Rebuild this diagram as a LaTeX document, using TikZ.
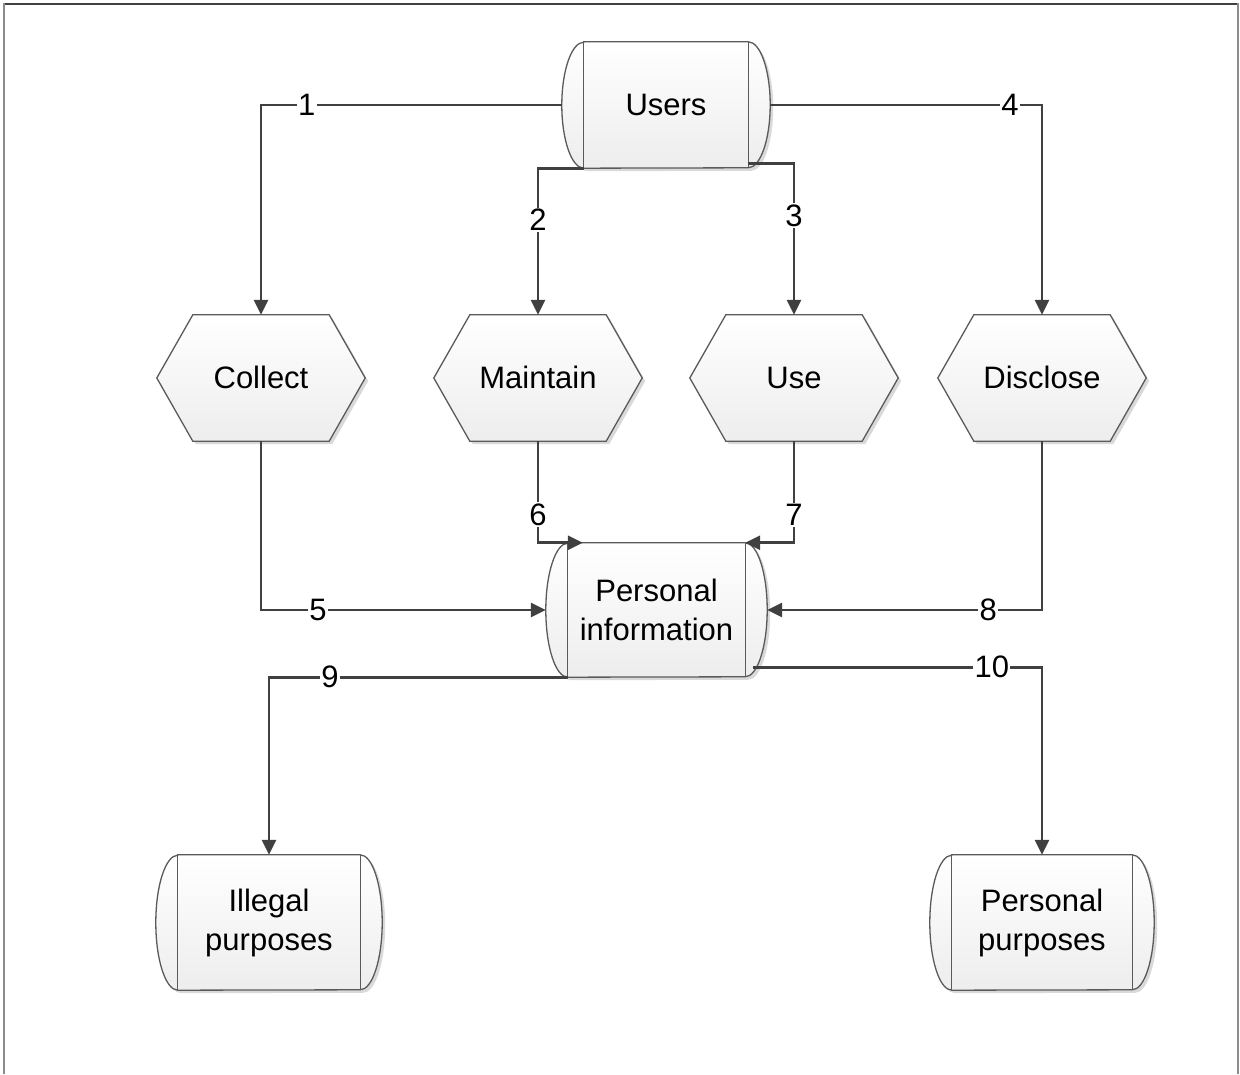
\documentclass[tikz,border=0pt]{standalone}
\usepackage{fontspec}
\setmainfont{Liberation Sans}
\usetikzlibrary{calc,arrows.meta,shadows,backgrounds}
\definecolor{conn}{HTML}{404040}
\definecolor{outl}{HTML}{5A5A5A}
\tikzset{
  shp/.style={draw=outl, line width=1.3pt, top color=white, bottom color=black!7,
    drop shadow={shadow xshift=3pt, shadow yshift=-3pt, opacity=0.15, fill=black}},
  shpline/.style={draw=outl, line width=1.3pt},
  box/.style={draw=none, inner sep=0pt, align=center, font=\fontsize{31}{39}\selectfont},
  hexbox/.style={box, minimum width=208pt, minimum height=126pt, text height=22pt, text depth=0pt},
  conline/.style={draw=conn, line width=2.8pt, -{Triangle[length=15pt,width=14pt]}},
  lbl/.style={fill=white, inner sep=1.5pt, font=\fontsize{31}{36}\selectfont},
}
\newcommand\cylshape[2]{%
  \draw[shp] ($(#1.north west)+(22,0)$) -- ($(#1.north east)+(-22,0)$)
    arc[start angle=90, end angle=-90, x radius=22pt, y radius=#2]
    -- ($(#1.south west)+(22,0)$)
    arc[start angle=270, end angle=90, x radius=22pt, y radius=#2] -- cycle;
  \draw[shpline] ($(#1.north west)+(22,0)$) -- ($(#1.south west)+(22,0)$)
    ($(#1.north east)+(-22,0)$) -- ($(#1.south east)+(-22,0)$);}
\newcommand\hexshape[1]{%
  \draw[shp] (#1.west) -- ($(#1.north west)+(36,0)$) -- ($(#1.north east)+(-36,0)$)
    -- (#1.east) -- ($(#1.south east)+(-36,0)$) -- ($(#1.south west)+(36,0)$) -- cycle;}
\begin{document}
\begin{tikzpicture}[x=1pt,y=1pt]
\useasboundingbox (0,0) rectangle (1240,1074);
% frame
\draw[conn, line width=2pt] (4,1070) -- (1238,1070);
\draw[black!45, line width=2pt] (4,1071) -- (4,0);
\draw[black!45, line width=2pt] (1238,1071) -- (1238,0);

% nodes
\node[box, minimum width=208pt, minimum height=126pt] (users) at (666,969) {Users};
\node[box, minimum width=221pt, minimum height=134pt] (pinfo) at (656.5,464) {Personal\\information};
\node[box, minimum width=226pt, minimum height=135pt] (illegal) at (269,151.5) {Illegal\\purposes};
\node[box, minimum width=224pt, minimum height=135pt] (ppurp) at (1042,151.5) {Personal\\purposes};
\node[hexbox] (collect) at (261,696) {Collect};
\node[hexbox] (maintain) at (538,696) {Maintain};
\node[hexbox] (use) at (794,696) {Use};
\node[hexbox] (disclose) at (1042,696) {Disclose};

\begin{pgfonlayer}{background}
\cylshape{users}{63pt}
\cylshape{pinfo}{67pt}
\cylshape{illegal}{67.5pt}
\cylshape{ppurp}{67.5pt}
\hexshape{collect}
\hexshape{maintain}
\hexshape{use}
\hexshape{disclose}
\end{pgfonlayer}

% connectors
\draw[conline] (users.west) -| node[lbl, pos=0.424] {1} (collect.north);
\draw[conline] (users.east) -| node[lbl, pos=0.441] {4} (disclose.north);
\coordinate (u2) at ($(users.south west)+(22,0)$);
\coordinate (u3) at ($(users.south east)+(-22,5)$);
\draw[conline] (u2) -| node[lbl, pos=0.677] {2} (maintain.north);
\draw[conline] (u3) -| node[lbl, pos=0.674] {3} (use.north);
\draw[conline] (collect.south) |- node[lbl, pos=0.6] {5} (pinfo.west);
\draw[conline] (disclose.south) |- node[lbl, pos=0.598] {8} (pinfo.east);
\coordinate (p6) at ($(pinfo.north west)+(37,0)$);
\coordinate (p7) at ($(pinfo.north east)+(-22,0)$);
\draw[conline] (maintain.south) |- node[lbl, pos=0.363] {6} (p6);
\draw[conline] (use.south) |- node[lbl, pos=0.363] {7} (p7);
\coordinate (p9) at ($(pinfo.south west)+(22,0)$);
\coordinate (p10) at ($(pinfo.south east)+(-14,10)$);
\draw[conline] (p9) -| node[lbl, pos=0.398] {9} (illegal.north);
\draw[conline] (p10) -| node[lbl, pos=0.413] {10} (ppurp.north);
\end{tikzpicture}
\end{document}
